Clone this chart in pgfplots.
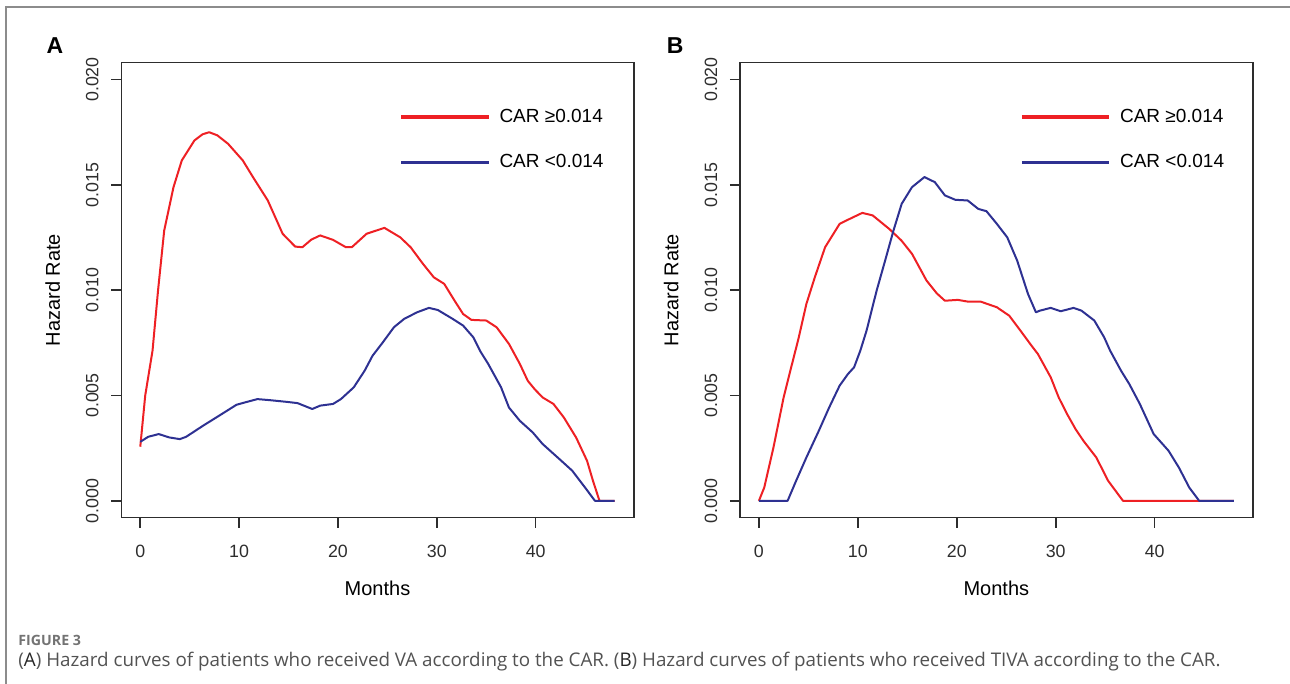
\documentclass[border=0pt]{standalone}
\usepackage{fontspec}
\setmainfont{Liberation Sans}
\newfontfamily\capfont{Open Sans}
\usepackage{pgfplots}
\usepackage{pgfplotstable}
\pgfplotsset{compat=1.18}

\definecolor{hzred}{RGB}{238,32,36}
\definecolor{hzblue}{RGB}{46,49,146}
\definecolor{axisgray}{RGB}{45,45,45}

% hazard curves: months, hazard rate
\pgfplotstableread{
x y
0 0.00257
0.5 0.0050
1.24 0.00713
1.8 0.0100
2.42 0.01283
3.36 0.01489
4.2 0.01616
5.48 0.01711
6.3 0.0174
6.97 0.0175
7.8 0.01735
8.88 0.01695
10.37 0.01616
11.4 0.01537
12.9 0.01426
14.4 0.01268
15.67 0.01207
16.4 0.01204
17.3 0.01240
18.2 0.0126
19.5 0.01239
20.8 0.01204
21.4 0.01204
22.9 0.01268
24.7 0.01296
26.3 0.01251
27.35 0.01204
28.6 0.01125
29.7 0.01061
30.75 0.0103
31.8 0.0095
32.66 0.00887
33.5 0.00859
35.0 0.00856
36.05 0.00824
37.3 0.00745
38.4 0.0065
39.2 0.0057
39.9 0.0053
40.7 0.00491
41.8 0.0046
42.85 0.00396
44.1 0.0030
45.2 0.0019
45.8 0.00095
46.46 0
48 0
}\vaHigh

\pgfplotstableread{
x y
0 0.0028
0.8 0.00304
1.87 0.00317
2.93 0.00301
4.0 0.00293
4.64 0.00304
6.33 0.00356
8.24 0.00412
9.73 0.00456
10.57 0.00467
11.85 0.00483
13.1 0.00478
14.8 0.0047
15.9 0.00464
17.4 0.00436
18.2 0.00452
19.5 0.0046
20.3 0.00483
21.6 0.00539
22.7 0.00618
23.5 0.00689
24.5 0.0075
25.66 0.00824
26.7 0.00864
28.0 0.00895
29.2 0.00916
30.1 0.00906
31.6 0.00864
32.66 0.00832
33.7 0.00776
34.4 0.0071
35.2 0.0065
36.5 0.00539
37.3 0.00443
38.4 0.0038
39.7 0.00325
40.7 0.0027
42.6 0.0019
43.7 0.00143
45.0 0.00063
46.0 0
48 0
}\vaLow

\pgfplotstableread{
x y
0 0
0.54 0.00063
1.47 0.00253
2.5 0.00491
3.35 0.0065
4.0 0.0077
4.8 0.00935
5.65 0.01061
6.69 0.01204
8.16 0.01315
9.2 0.01339
10.45 0.01367
11.5 0.01355
13.17 0.01291
14.4 0.01236
15.47 0.01173
16.94 0.01046
17.98 0.00985
18.8 0.0095
20.1 0.00954
21.1 0.00946
22.4 0.00946
24.05 0.00919
25.3 0.00879
26.56 0.0080
27.5 0.0074
28.2 0.00697
29.5 0.00586
30.3 0.00491
31.15 0.00412
32.0 0.00341
32.8 0.00285
34.1 0.00206
35.3 0.00095
36.8 0
48 0
}\tivaHigh

\pgfplotstableread{
x y
0 0
2.9 0
3.76 0.00095
4.8 0.00206
6.06 0.00333
7.1 0.00443
8.16 0.00547
9.0 0.00602
9.62 0.00634
10.25 0.00713
10.88 0.00808
11.9 0.00998
12.76 0.01141
13.6 0.01283
14.43 0.0141
15.47 0.01489
16.73 0.01537
17.78 0.01513
18.8 0.0145
19.86 0.01429
21.1 0.01426
22.17 0.01386
23.0 0.01375
24.05 0.01315
25.1 0.01251
26.1 0.01141
27.2 0.00982
28.0 0.00895
28.4 0.00903
29.5 0.00916
30.5 0.0090
31.8 0.00916
32.6 0.00903
33.9 0.00856
34.9 0.00776
35.5 0.00713
36.6 0.00618
37.43 0.00555
38.5 0.0046
39.9 0.00317
41.4 0.00238
42.45 0.00158
43.5 0.00063
44.5 0
48 0
}\tivaLow

\pgfplotsset{
  hazard/.style={
    scale only axis,
    height=227.5pt,
    xmin=-1.92, xmax=49.92,
    ymin=-0.0008, ymax=0.0208,
    xtick={0,10,20,30,40},
    ytick={0,0.005,0.010,0.015,0.020},
    scaled y ticks=false,
    tick align=outside, tick pos=left,
    major tick length=5pt,
    axis line style={axisgray, line width=0.8pt},
    tick style={axisgray, line width=0.8pt},
    tick label style={font=\fontsize{8.9}{10}\selectfont, text=axisgray},
    label style={font=\fontsize{8.3}{10}\selectfont, text=axisgray},
    /pgf/number format/assume math mode=true,
    xticklabel style={yshift=-5.3pt},
    yticklabel style={xshift=-2.8pt, rotate=90, anchor=south,
      /pgf/number format/fixed, /pgf/number format/fixed zerofill,
      /pgf/number format/precision=3},
    xlabel={Months},
    ylabel={Hazard Rate},
    every axis x label/.style={at={(axis description cs:0.5,0)}, yshift=-35.3pt, anchor=center},
    every axis y label/.style={at={(axis description cs:0,0.5)}, xshift=-34.3pt, rotate=90, anchor=center},
    legend cell align=left,
    legend image code/.code={\draw[#1, line width=1.6pt] (0pt,0pt) -- (43.8pt,0pt);},
    legend style={draw=none, fill=none, anchor=north west, row sep=10.5pt, column sep=2.5pt,
      font=\fontsize{9.5}{11}\selectfont, text=black},
    every axis plot/.append style={line width=1pt, line join=round},
  }
}

\begin{document}
\begin{tikzpicture}
\useasboundingbox (0,0) rectangle (645pt,342pt);
\draw[black!45, line width=0.6pt] (3pt,0pt) -- (3pt,338.5pt) -- (645pt,338.5pt);

\begin{axis}[hazard, width=256.2pt, at={(60.65pt,83.15pt)}, anchor=south west,
  legend style={at={(axis cs:25.6,0.01901)}}]
\addplot[hzred] table {\vaHigh};
\addlegendentry{CAR ≥0.014}
\addplot[hzblue] table {\vaLow};
\addlegendentry{CAR <0.014}
\end{axis}

\begin{axis}[hazard, width=256.45pt, at={(369.95pt,83.15pt)}, anchor=south west,
  legend style={at={(axis cs:25.77,0.01901)}}]
\addplot[hzred] table {\tivaHigh};
\addlegendentry{CAR ≥0.014}
\addplot[hzblue] table {\tivaLow};
\addlegendentry{CAR <0.014}
\end{axis}

\node[font=\fontsize{11.5}{12}\selectfont\bfseries] at (27.5pt,319pt) {A};
\node[font=\fontsize{11.5}{12}\selectfont\bfseries] at (337.6pt,319pt) {B};

\node[anchor=west, inner sep=0pt, text=black!55, font=\capfont\fontsize{7.1}{8}\selectfont\bfseries]
  at (9pt,22pt) {FIGURE 3};
\node[anchor=west, inner sep=0pt, text=black!68, font=\capfont\fontsize{9.4}{11}\selectfont]
  at (9pt,11.2pt) {({\color{black!85}A}) Hazard curves of patients who received VA according to the CAR. ({\color{black!85}B}) Hazard curves of patients who received TIVA according to the CAR.};
\end{tikzpicture}
\end{document}
